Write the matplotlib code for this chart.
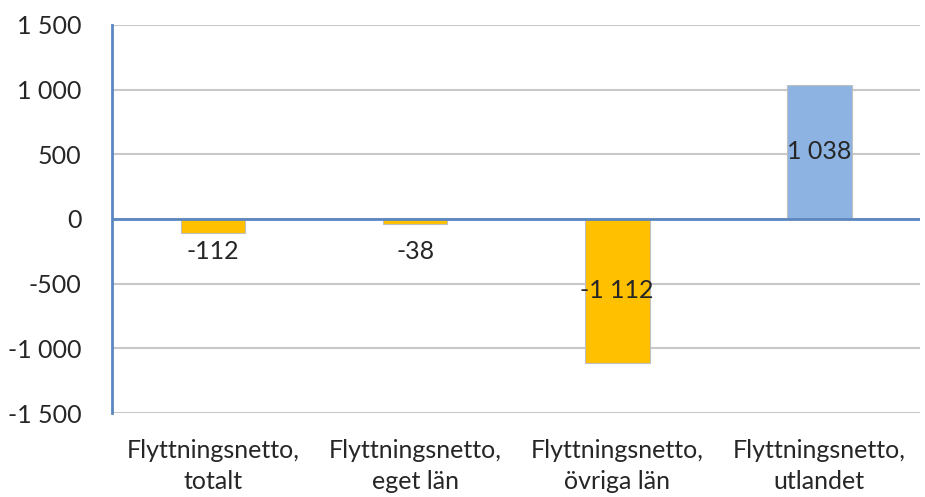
import matplotlib.pyplot as plt
from matplotlib.ticker import FuncFormatter

plt.rcParams['font.family'] = ['Lato', 'DejaVu Sans']

categories = ["Flyttningsnetto,\ntotalt", "Flyttningsnetto,\neget län",
              "Flyttningsnetto,\növriga län", "Flyttningsnetto,\nutlandet"]
values = [-112, -38, -1112, 1038]
bar_colors = ["#FFC000", "#FFC000", "#FFC000", "#8DB3E2"]
yticks = [-1500, -1000, -500, 0, 500, 1000, 1500]


def fmt(v, pos=None):
    s = f"{abs(int(v)):,}".replace(",", " ")
    return "-" + s if v < 0 else s


fig = plt.figure(figsize=(9.25, 4.97), dpi=100)
ax = fig.add_axes([0.121, 0.169, 0.874, 0.781])

x = range(len(values))
ax.bar(x, values, width=0.32, color=bar_colors, edgecolor="#BFBFBF", linewidth=0.8, zorder=3)

ax.set_ylim(-1500, 1500)
ax.set_xlim(-0.5, len(values) - 0.5)
ax.set_yticks(yticks)
ax.yaxis.set_major_formatter(FuncFormatter(fmt))
ax.grid(axis="y", color="#C8C8C8", linewidth=1.5, zorder=0)
ax.axhline(0, color="#5B87C0", linewidth=2, zorder=4)

for s in ["top", "right", "bottom"]:
    ax.spines[s].set_visible(False)
ax.spines["left"].set_color("#5B87C0")
ax.spines["left"].set_linewidth(2)

ax.set_xticks(list(x))
ax.set_xticklabels(categories, fontsize=18, color="#262626", linespacing=1.42)
ax.tick_params(axis="x", length=0, pad=19)
ax.tick_params(axis="y", length=0, pad=22, labelsize=18, labelcolor="#262626")

# small bars get their label just below the zero line, big ones in the middle
for i, v in enumerate(values):
    if abs(v) > 500:
        ax.text(i, v / 2, fmt(v), ha="center", va="center", fontsize=18, color="#262626", zorder=5)
    else:
        ax.annotate(fmt(v), (i, 0), xytext=(0, -15), textcoords="offset points",
                    ha="center", va="top", fontsize=18, color="#262626", zorder=5)

fig.savefig("out.png", dpi=100)
